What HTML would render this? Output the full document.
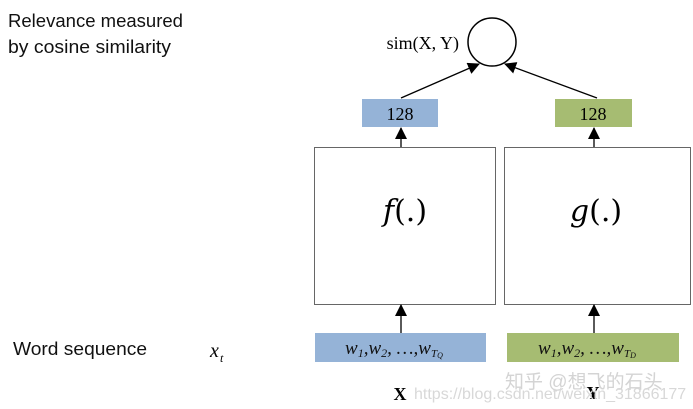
<!DOCTYPE html>
<html><head><meta charset="utf-8"><style>
html,body{margin:0;padding:0;background:#fff;width:693px;height:409px;overflow:hidden}
</style></head><body>
<svg width="693" height="409" viewBox="0 0 693 409" xmlns="http://www.w3.org/2000/svg">
<defs>
<marker id="ah" markerWidth="12" markerHeight="12" refX="11" refY="6" orient="auto" markerUnits="userSpaceOnUse">
<path d="M0,0 L12,6 L0,12 z" fill="#000"/>
</marker>
</defs>
<g font-family="'Liberation Sans', sans-serif" font-size="18" fill="#111">
<text x="8" y="27" textLength="175" lengthAdjust="spacingAndGlyphs">Relevance measured</text>
<text x="8" y="53" textLength="163" lengthAdjust="spacingAndGlyphs">by cosine similarity</text>
<text x="13" y="355" textLength="134" lengthAdjust="spacingAndGlyphs">Word sequence</text>
</g>
<text x="210" y="357" font-family="'Liberation Serif', serif" font-style="italic" font-size="20">x</text>
<text x="220" y="362" font-family="'Liberation Serif', serif" font-style="italic" font-size="12">t</text>

<circle cx="492" cy="42" r="24" fill="#fff" stroke="#000" stroke-width="1.5"/>
<text x="459" y="49" text-anchor="end" font-family="'Liberation Serif', serif" font-size="18">sim(X, Y)</text>

<line x1="401" y1="98" x2="479" y2="64" stroke="#000" stroke-width="1.3" marker-end="url(#ah)"/>
<line x1="597" y1="98" x2="505" y2="64" stroke="#000" stroke-width="1.3" marker-end="url(#ah)"/>

<rect x="362" y="99" width="76" height="28" fill="#95b3d7"/>
<rect x="555" y="99" width="77" height="28" fill="#a6bc72"/>
<text x="400" y="120" text-anchor="middle" font-family="'Liberation Serif', serif" font-size="18">128</text>
<text x="593" y="120" text-anchor="middle" font-family="'Liberation Serif', serif" font-size="18">128</text>

<line x1="401" y1="147" x2="401" y2="128" stroke="#000" stroke-width="1.3" marker-end="url(#ah)"/>
<line x1="594" y1="147" x2="594" y2="128" stroke="#000" stroke-width="1.3" marker-end="url(#ah)"/>

<rect x="314.5" y="147.5" width="181" height="157" fill="#fff" stroke="#666" stroke-width="1"/>
<rect x="504.5" y="147.5" width="186" height="157" fill="#fff" stroke="#666" stroke-width="1"/>
<text x="405" y="221" text-anchor="middle" font-family="'DejaVu Serif', serif" font-size="30"><tspan font-style="italic">f</tspan>(.)</text>
<text x="596" y="221" text-anchor="middle" font-family="'DejaVu Serif', serif" font-size="30"><tspan font-style="italic">g</tspan>(.)</text>

<line x1="401" y1="333" x2="401" y2="305" stroke="#000" stroke-width="1.3" marker-end="url(#ah)"/>
<line x1="594" y1="333" x2="594" y2="305" stroke="#000" stroke-width="1.3" marker-end="url(#ah)"/>

<rect x="315" y="333" width="171" height="29" fill="#95b3d7"/>
<rect x="507" y="333" width="172" height="29" fill="#a6bc72"/>
<g font-family="'Liberation Serif', serif" font-style="italic" fill="#111">
<text x="345" y="354" font-size="19">w<tspan font-size="12" dy="3">1</tspan><tspan dy="-3">,w</tspan><tspan font-size="12" dy="3">2</tspan><tspan dy="-3">, …,w</tspan><tspan font-size="11" dy="3">T</tspan><tspan font-size="8" dy="1">Q</tspan></text>
<text x="538" y="354" font-size="19">w<tspan font-size="12" dy="3">1</tspan><tspan dy="-3">,w</tspan><tspan font-size="12" dy="3">2</tspan><tspan dy="-3">, …,w</tspan><tspan font-size="11" dy="3">T</tspan><tspan font-size="8" dy="1">D</tspan></text>
</g>
<text x="400" y="400" text-anchor="middle" font-family="'Liberation Serif', serif" font-weight="bold" font-size="18">X</text>
<text x="593" y="399" text-anchor="middle" font-family="'Liberation Serif', serif" font-weight="bold" font-size="18">Y</text>

<text x="505" y="388" font-family="'Liberation Sans', 'Noto Sans CJK SC', sans-serif" font-size="19" fill="#d4d4d4">知乎 @想飞的石头</text>
<text x="414" y="399" font-family="'Liberation Sans', sans-serif" font-size="16" fill="#d8d8d8">https://blog.csdn.net/weixin_31866177</text>
</svg>
</body></html>
